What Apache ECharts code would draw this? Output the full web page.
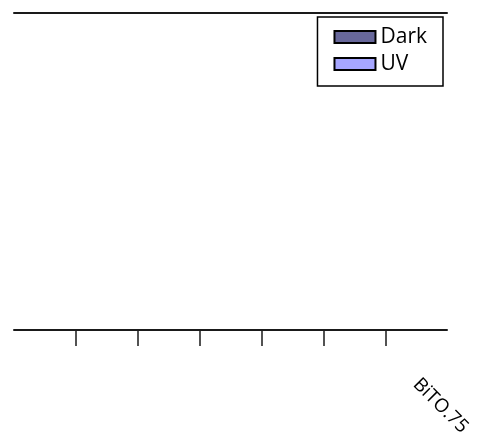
<!DOCTYPE html>
<html>
<head>
<meta charset="utf-8">
<script src="https://cdn.jsdelivr.net/npm/echarts@6/dist/echarts.min.js"></script>
<style>
  html, body { margin: 0; padding: 0; background: #fff; }
  #chart { width: 477px; height: 439px; }
</style>
</head>
<body>
<div id="chart"></div>
<script>
// Sample categories along the x axis (only the last one carries a name)
const categories = ['', '', '', '', '', '', 'BiTO.75'];
// Measured values per sample
const darkValues = [0, 0, 0, 0, 0, 0, 0];
const uvValues = [0, 0, 0, 0, 0, 0, 0];
// Positions of the category boundary ticks (between neighbouring samples)
const boundaryTicks = [1, 6];

const FONT = 'Open Sans';
const AXIS_COLOR = '#1a1a1a';

const chart = echarts.init(document.getElementById('chart'), null, { renderer: 'canvas' });

chart.setOption({
  animation: false,
  backgroundColor: '#fff',
  grid: [
    { left: 14, right: 30, top: 13, bottom: 108, containLabel: false },
    // helper grid spanning only the inner boundaries, used for the tick marks
    { left: 76, right: 91, top: 13, bottom: 108, containLabel: false }
  ],
  legend: {
    orient: 'vertical',
    right: 34,
    top: 17,
    padding: [9, 16, 11, 16],
    itemGap: 5,
    itemWidth: 41,
    itemHeight: 12,
    borderColor: '#000',
    borderWidth: 1.5,
    borderRadius: 0,
    backgroundColor: '#fff',
    icon: 'rect',
    itemStyle: { borderColor: '#000', borderWidth: 2 },
    textStyle: { fontFamily: FONT, fontSize: 21, color: '#000', lineHeight: 22 },
    data: ['Dark', 'UV']
  },
  xAxis: [
    {
      gridIndex: 0,
      type: 'category',
      data: categories,
      position: 'bottom',
      boundaryGap: true,
      axisLine: { show: true, lineStyle: { color: AXIS_COLOR, width: 2 } },
      axisTick: { show: false },
      axisLabel: {
        show: true,
        interval: 0,
        rotate: -45,
        margin: 52,
        fontFamily: FONT,
        fontSize: 19,
        color: '#000'
      },
      splitLine: { show: false }
    },
    {
      gridIndex: 0,
      type: 'category',
      data: categories,
      position: 'top',
      axisLine: { show: true, lineStyle: { color: AXIS_COLOR, width: 2 } },
      axisTick: { show: false },
      axisLabel: { show: false },
      splitLine: { show: false }
    },
    {
      gridIndex: 1,
      type: 'value',
      min: boundaryTicks[0],
      max: boundaryTicks[1],
      interval: 1,
      position: 'bottom',
      axisLine: { show: false },
      axisTick: { show: true, length: 15, lineStyle: { color: AXIS_COLOR, width: 1.5 } },
      axisLabel: { show: false },
      splitLine: { show: false }
    }
  ],
  yAxis: [
    {
      gridIndex: 0,
      type: 'value',
      min: 0,
      max: 1,
      show: false
    },
    {
      gridIndex: 1,
      type: 'value',
      min: 0,
      max: 1,
      show: false
    }
  ],
  series: [
    {
      name: 'Dark',
      type: 'bar',
      xAxisIndex: 0,
      yAxisIndex: 0,
      data: darkValues,
      itemStyle: { color: '#67679a' }
    },
    {
      name: 'UV',
      type: 'bar',
      xAxisIndex: 0,
      yAxisIndex: 0,
      data: uvValues,
      itemStyle: { color: '#a6a6ff' }
    }
  ]
});
</script>
</body>
</html>
